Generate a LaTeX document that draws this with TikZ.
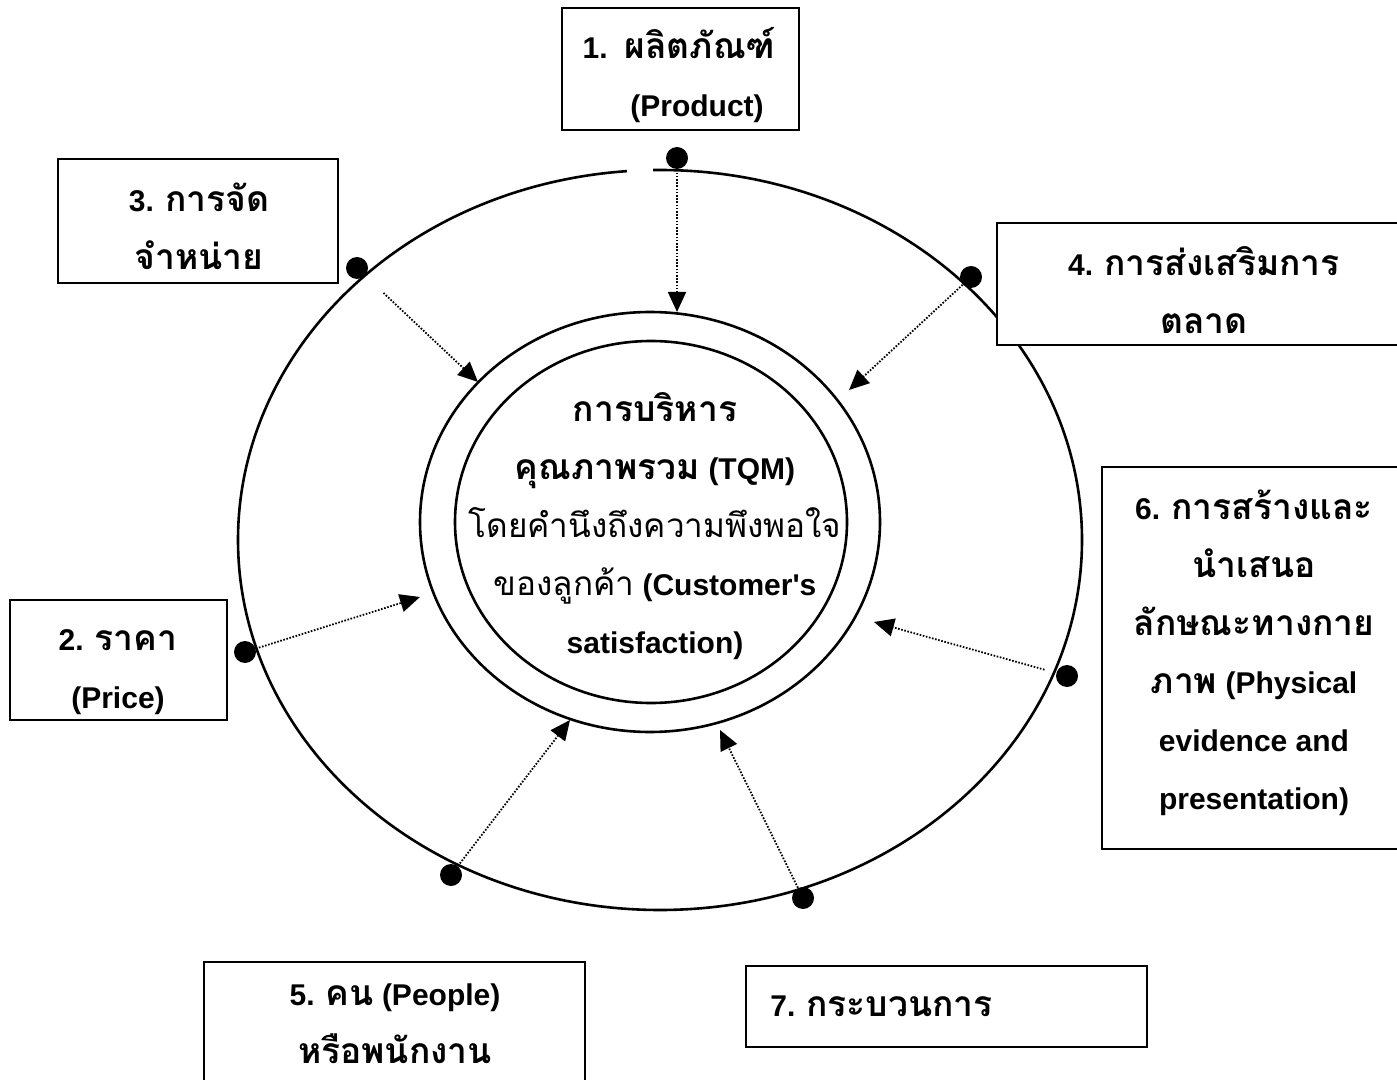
\documentclass[tikz,border=0pt]{standalone}
\usepackage{fontspec}
\setmainfont{Liberation Sans}
\newfontfamily\thaifont[Script=Thai,Scale=1.18]{Loma}
\newfontfamily\thairegfont[Script=Thai,Scale=1.11]{Loma}
\newcommand{\thf}[1]{{\thaifont #1}}
\newcommand{\thr}[1]{{\thairegfont\mdseries #1}}
\usetikzlibrary{arrows.meta}

\tikzset{
  ring/.style={draw, line width=1.3pt},
  box/.style={draw, line width=1pt, fill=white, inner sep=0pt},
  boxtext/.style={inner sep=0pt, align=center,
    font=\fontsize{15}{29}\selectfont\bfseries},
  dotmark/.style={circle, fill=black, inner sep=0pt, minimum size=11pt},
  conn/.style={line width=0.9pt, dash pattern=on 0.8pt off 0.8pt,
    -{Triangle[length=10pt,width=9pt]}},
}

\begin{document}
\begin{tikzpicture}[x=0.5pt,y=-0.5pt]
\useasboundingbox (0,0) rectangle (1397,1080);
\clip (0,0) rectangle (1397,1080);
\fill[white] (0,0) rectangle (1397,1080);

% three rings around the centre
\draw[ring] (660,540) ++(269.05:422 and 370)
  arc[start angle=269.05, end angle=625.5, x radius=422, y radius=370];
\draw[ring] (650,522) ellipse[x radius=230, y radius=210];
\draw[ring] (651,522) ellipse[x radius=196, y radius=181];

% centre text
\node[boxtext] (core) at (655,526)
  {\thf{การบริหาร}\\
   \thf{คุณภาพรวม} (TQM)\\
   \thr{โดยคำนึงถึงความพึงพอใจ}\\
   \thr{ของลูกค้า} (Customer\textquotesingle s\\
   satisfaction)};

% the seven element boxes
\node[box, minimum width=118.5pt, minimum height=61pt] (b1) at (680.5,69) {};
\node[box, minimum width=140pt, minimum height=62pt] (b3) at (198,221) {};
\node[box, minimum width=206pt, minimum height=61pt] (b4) at (1203,284) {};
\node[box, minimum width=151pt, minimum height=191pt] (b6) at (1253,658) {};
\node[box, minimum width=108.5pt, minimum height=60pt] (b2) at (118.5,660) {};
\node[box, minimum width=190.5pt, minimum height=70pt] (b5) at (394.5,1032) {};
\node[box, minimum width=200.5pt, minimum height=40.5pt] (b7) at (946.5,1006.5) {};

% their labels
\node[boxtext] (l1) at (679,75)
  {1.~~\thf{ผลิตภัณฑ์}\\\hspace*{18pt}(Product)};
\node[boxtext] (l3) at (199,226) {3. \thf{การจัด}\\\thf{จำหน่าย}};
\node[boxtext] (l4) at (1204,290) {4. \thf{การส่งเสริมการ}\\\thf{ตลาด}};
\node[boxtext] (l6) at (1254,653)
  {6. \thf{การสร้างและ}\\\thf{นำเสนอ}\\\thf{ลักษณะทางกาย}\\\thf{ภาพ} (Physical\\evidence and\\presentation)};
\node[boxtext] (l2) at (118,672) {2. \thf{ราคา}\\(Price)};
\node[boxtext] (l5) at (395,1024) {5. \thf{คน} (People)\\\thf{หรือพนักงาน}};
\node[boxtext, anchor=west] (l7) at (770,1006) {7. \thf{กระบวนการ}};

% contact points on the outer ring
\node[dotmark] (d1) at (677,158) {};
\node[dotmark] (d3) at (357,268) {};
\node[dotmark] (d4) at (971,277) {};
\node[dotmark] (d2) at (245,652) {};
\node[dotmark] (d6) at (1067,676) {};
\node[dotmark] (d5) at (451,875) {};
\node[dotmark] (d7) at (803,898) {};

% arrow tips at the middle ring
\coordinate (t1) at (677,312);
\coordinate (t3) at (478,382);
\coordinate (t4) at (849,390);
\coordinate (t2) at (420,597);
\coordinate (t6) at (874,622);
\coordinate (t5) at (570,720);
\coordinate (t7) at (720,730);

\draw[conn] (d1) -- (t1);
\draw[conn, shorten <=12.5pt] (d3) -- (t3);
\draw[conn] (d4) -- (t4);
\draw[conn] (d2) -- (t2);
\draw[conn, shorten <=6pt] (d6) -- (t6);
\draw[conn] (d5) -- (t5);
\draw[conn] (d7) -- (t7);
\end{tikzpicture}
\end{document}
